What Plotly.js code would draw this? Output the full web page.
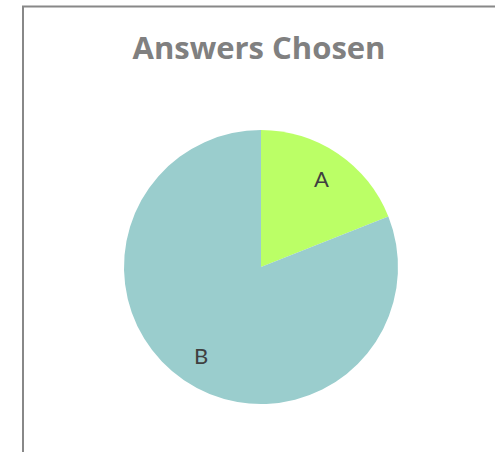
<!DOCTYPE html>
<html>
<head>
<meta charset="utf-8">
<script src="https://cdn.plot.ly/plotly-3.0.1.min.js"></script>
<style>
  body { margin: 0; background: #fff; }
  #chart { width: 495px; height: 452px; }
</style>
</head>
<body>
<div id="chart"></div>
<script>
// answers and how often each was picked
var answers = ['A', 'B'];
var counts = [19, 81];
var sliceColors = ['#bbff66', '#9acdcd'];

var W = 495, H = 452;
function px(x) { return x / W; }
function py(y) { return 1 - y / H; }

// pie box (paper fractions)
var dom = { x: [px(124), px(398)], y: [py(404), py(130)] };

// labels sit further out than plotly's inside text, like the original
var total = counts.reduce(function (a, b) { return a + b; }, 0);
var cx = (dom.x[0] + dom.x[1]) / 2, cy = (dom.y[0] + dom.y[1]) / 2;
var rx = (dom.x[1] - dom.x[0]) / 2, ry = (dom.y[1] - dom.y[0]) / 2;
var labelAnns = [];
var acc = 0;
for (var i = 0; i < counts.length; i++) {
    var mid = (acc + counts[i] / 2) / total * 2 * Math.PI;
    acc += counts[i];
    labelAnns.push({
        xref: 'paper', yref: 'paper',
        x: cx + 0.78 * rx * Math.sin(mid),
        y: cy + 0.78 * ry * Math.cos(mid),
        text: answers[i], showarrow: false,
        xanchor: 'center', yanchor: 'middle',
        font: { family: 'Lato, "Open Sans", sans-serif', size: 22, color: '#404040' }
    });
}

Plotly.newPlot('chart', [{
    type: 'pie',
    labels: answers,
    values: counts,
    sort: false,
    direction: 'clockwise',
    rotation: 0,
    marker: { colors: sliceColors, line: { width: 0 } },
    textinfo: 'none',
    hoverinfo: 'none',
    showlegend: false,
    domain: dom
}], {
    width: W,
    height: H,
    margin: { l: 0, r: 0, t: 0, b: 0 },
    paper_bgcolor: '#ffffff',
    title: {
        text: '<b>Answers Chosen</b>',
        font: { family: '"Open Sans", sans-serif', size: 31, color: '#808080' },
        x: px(259), xanchor: 'center',
        y: py(48), yanchor: 'middle'
    },
    annotations: labelAnns,
    shapes: [
        { type: 'line', xref: 'paper', yref: 'paper', x0: px(23), x1: px(23), y0: py(6), y1: 0,
          line: { color: '#888888', width: 2 } },
        { type: 'line', xref: 'paper', yref: 'paper', x0: px(22), x1: 1, y0: py(6.5), y1: py(6.5),
          line: { color: '#888888', width: 2 } }
    ]
}, { displayModeBar: false, staticPlot: true });
</script>
</body>
</html>
